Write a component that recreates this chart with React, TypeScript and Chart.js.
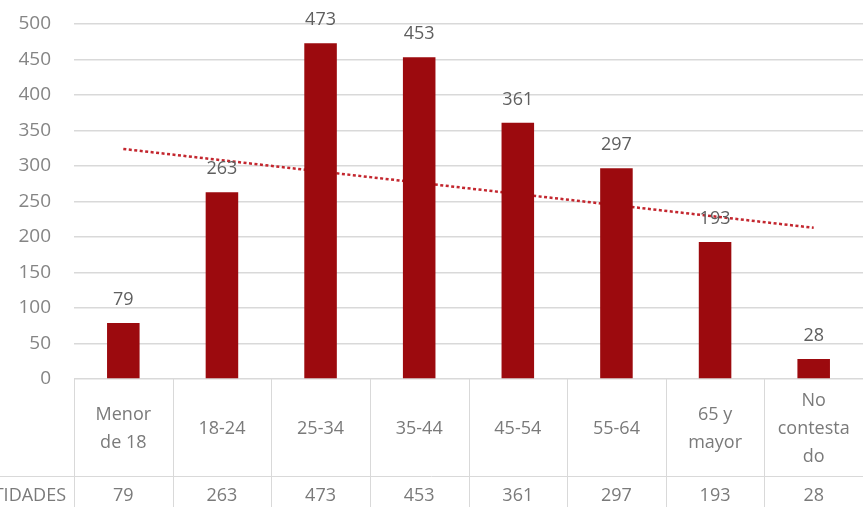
import React, { useEffect, useRef } from "react";
import { Chart, registerables } from "chart.js";

Chart.register(...registerables);

const categories: string[][] = [
  ["Menor", "de 18"],
  ["18-24"],
  ["25-34"],
  ["35-44"],
  ["45-54"],
  ["55-64"],
  ["65 y", "mayor"],
  ["No", "contesta", "do"],
];
const values = [79, 263, 473, 453, 361, 297, 193, 28];
// Trend line endpoints (first and last category)
const trend: (number | null)[] = [324, null, null, null, null, null, null, 213];
const yTicks = [0, 50, 100, 150, 200, 250, 300, 350, 400, 450, 500];
const rowLabel = "CANTIDADES";

const FONT = "'Open Sans', 'DejaVu Sans', sans-serif";

const tablePlugin = {
  id: "tablePlugin",
  afterDatasetsDraw(chart: any) {
    const ctx = chart.ctx as CanvasRenderingContext2D;
    const meta = chart.getDatasetMeta(0);
    ctx.save();
    ctx.fillStyle = "#5f5f5f";
    ctx.font = `18px ${FONT}`;
    ctx.textAlign = "center";
    ctx.textBaseline = "middle";
    meta.data.forEach((bar: any, i: number) => {
      ctx.fillText(String(values[i]), bar.x, bar.y - 23);
    });
    ctx.restore();
  },
  afterDraw(chart: any) {
    const ctx = chart.ctx as CanvasRenderingContext2D;
    const area = chart.chartArea;
    const n = categories.length;
    const colW = (area.right - area.left) / n;
    const top = area.bottom;
    const mid = top + 97;
    const bottom = chart.height;
    ctx.save();
    ctx.strokeStyle = "#d9d9d9";
    ctx.lineWidth = 1;
    ctx.beginPath();
    for (let i = 0; i <= n; i++) {
      const x = Math.round(area.left + i * colW) + 0.5;
      ctx.moveTo(x, top);
      ctx.lineTo(x, bottom);
    }
    ctx.moveTo(0, mid + 0.5);
    ctx.lineTo(area.right, mid + 0.5);
    ctx.stroke();

    ctx.fillStyle = "#7a7a7a";
    ctx.font = `18px ${FONT}`;
    ctx.textAlign = "center";
    ctx.textBaseline = "middle";
    const lh = 28;
    categories.forEach((lines, i) => {
      const cx = area.left + (i + 0.5) * colW;
      const cy = (top + mid) / 2 + 1;
      const start = cy - ((lines.length - 1) * lh) / 2;
      lines.forEach((l, j) => ctx.fillText(l, cx, start + j * lh));
      ctx.fillText(String(values[i]), cx, mid + 20);
    });
    ctx.textAlign = "right";
    ctx.fillText(rowLabel, area.left - 8, mid + 20);
    ctx.restore();
  },
};

export default function App() {
  const ref = useRef<HTMLCanvasElement>(null);
  useEffect(() => {
    document.body.style.margin = "0";
    const chart = new Chart(ref.current!, {
      type: "bar",
      data: {
        labels: categories.map((c) => c.join(" ")),
        datasets: [
          {
            type: "bar",
            data: values,
            backgroundColor: "#9c0a0e",
            barPercentage: 0.33,
            categoryPercentage: 1,
            order: 1,
          },
          {
            type: "line",
            data: trend,
            spanGaps: true,
            borderColor: "#c3262e",
            borderWidth: 2.5,
            borderDash: [3, 2.5],
            pointRadius: 0,
            fill: false,
            order: 2,
          } as any,
        ],
      },
      options: {
        animation: false,
        responsive: false,
        maintainAspectRatio: false,
        layout: { padding: { top: 24, bottom: 128, left: 0, right: 0 } },
        plugins: { legend: { display: false }, tooltip: { enabled: false } },
        scales: {
          x: { display: false, offset: true },
          y: {
            min: 0,
            max: 500,
            afterBuildTicks: (s: any) => {
              s.ticks = yTicks.map((v) => ({ value: v }));
            },
            afterFit: (s: any) => {
              s.width = 74;
              s.paddingTop = 0;
              s.paddingBottom = 0;
            },
            border: { display: false },
            grid: { color: "#d9d9d9", drawTicks: false, lineWidth: 1.5 },
            ticks: {
              padding: 23,
              color: "#858585",
              font: { family: FONT, size: 19 },
            },
          },
        },
      },
      plugins: [tablePlugin],
    });
    return () => chart.destroy();
  }, []);
  return (
    <div style={{ position: "fixed", left: 0, top: 0, width: 863, height: 507, background: "#fff" }}>
      <canvas ref={ref} width={863} height={507} style={{ width: 863, height: 507 }} />
    </div>
  );
}
